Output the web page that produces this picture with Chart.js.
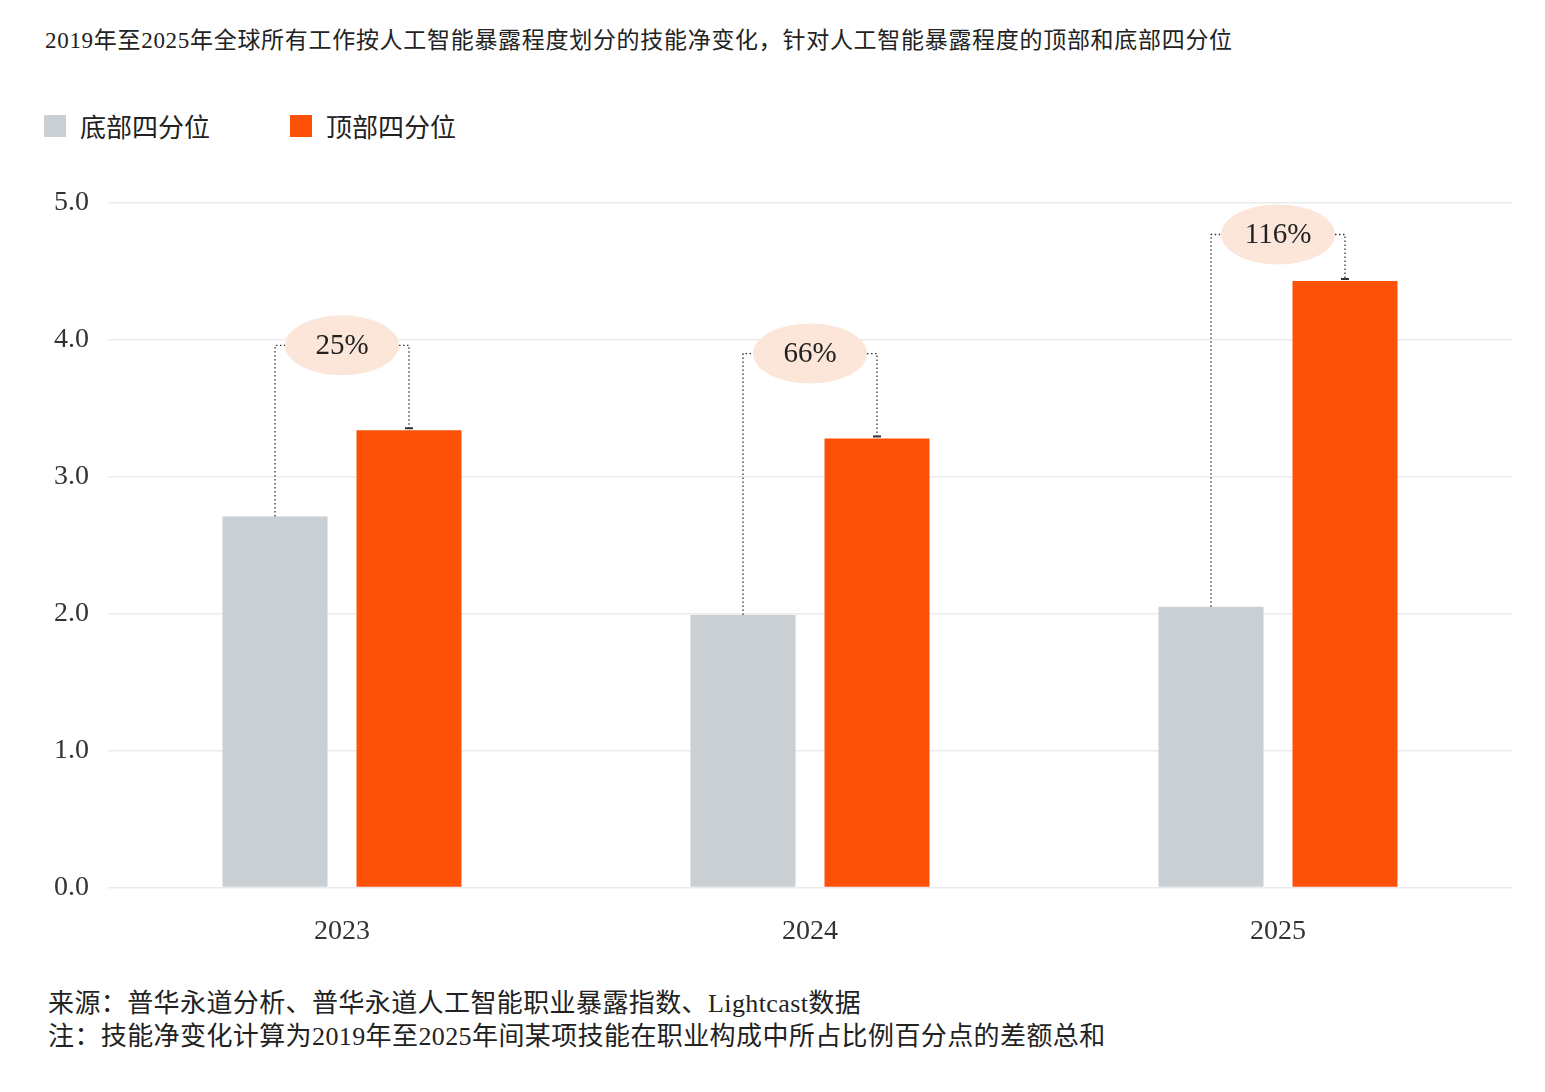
<!DOCTYPE html>
<html lang="zh-CN">
<head>
<meta charset="utf-8">
<title>技能净变化</title>
<script src="https://cdn.jsdelivr.net/npm/chart.js@4.4.1/dist/chart.umd.min.js"></script>
<style>
  body {
    margin: 0;
    background: #fff;
    font-family: "Liberation Serif", "Noto Sans CJK SC", serif;
    color: #222;
  }
  .page {
    position: relative;
    width: 1545px;
    height: 1092px;
  }
  .title {
    position: absolute;
    left: 45px;
    top: 21px;
    font-size: 23px;
    letter-spacing: 0.7px;
  }
  .legend {
    position: absolute;
    left: 44px;
    top: 107px;
    display: flex;
    font-size: 26px;
  }
  .legend-item {
    display: flex;
    align-items: center;
    margin-right: 80px;
  }
  .legend-box {
    width: 22px;
    height: 22px;
    margin-right: 14px;
  }
  .chart-wrap {
    position: absolute;
    left: 0;
    top: 150px;
    width: 1545px;
    height: 832px;
  }
  .notes {
    position: absolute;
    left: 48px;
    top: 987px;
    font-size: 26px;
    letter-spacing: 0.4px;
    line-height: 33px;
  }
</style>
</head>
<body>
<div class="page">
  <div class="title">2019年至2025年全球所有工作按人工智能暴露程度划分的技能净变化，针对人工智能暴露程度的顶部和底部四分位</div>
  <div class="legend" id="legend"></div>
  <div class="chart-wrap"><canvas id="chart"></canvas></div>
  <div class="notes">
    <div>来源：普华永道分析、普华永道人工智能职业暴露指数、Lightcast数据</div>
    <div>注：技能净变化计算为2019年至2025年间某项技能在职业构成中所占比例百分点的差额总和</div>
  </div>
</div>

<script>
// data
const years = ["2023", "2024", "2025"];
const bottomQuartile = [2.71, 1.99, 2.05];
const topQuartile = [3.34, 3.28, 4.43];
const gapLabels = ["25%", "66%", "116%"];
const gapLevels = [3.96, 3.9, 4.77]; // height of the dotted connector
const yTicks = [0, 1, 2, 3, 4, 5];

const GREY = "#c9cfd2";
const ORANGE = "#fd5108";

// dotted connectors with the % bubble between the two bars
const gapPlugin = {
  id: "gapLabels",
  afterDatasetsDraw(chart) {
    const ctx = chart.ctx;
    const x = chart.scales.x;
    const y = chart.scales.y;
    const low = chart.getDatasetMeta(0).data;
    const high = chart.getDatasetMeta(1).data;
    const rx = 57, ry = 30;

    years.forEach((yr, i) => {
      const cx = x.getPixelForValue(i);
      const lvl = y.getPixelForValue(gapLevels[i]);
      const lx = low[i].x;
      const hx = high[i].x;

      ctx.save();
      ctx.strokeStyle = "#333";
      ctx.lineWidth = 1.3;
      ctx.setLineDash([1.5, 2.5]);
      ctx.beginPath();
      ctx.moveTo(lx, low[i].y);
      ctx.lineTo(lx, lvl);
      ctx.lineTo(cx - rx, lvl);
      ctx.moveTo(cx + rx, lvl);
      ctx.lineTo(hx, lvl);
      ctx.lineTo(hx, high[i].y - 2);
      ctx.stroke();
      ctx.setLineDash([]);

      // small cap on top of the orange bar
      ctx.lineWidth = 2;
      ctx.beginPath();
      ctx.moveTo(hx - 4, high[i].y - 2);
      ctx.lineTo(hx + 4, high[i].y - 2);
      ctx.stroke();

      ctx.fillStyle = "#fce6da";
      ctx.beginPath();
      ctx.ellipse(cx, lvl, rx, ry, 0, 0, Math.PI * 2);
      ctx.fill();

      ctx.fillStyle = "#222";
      ctx.font = "29px 'Liberation Serif', serif";
      ctx.textAlign = "center";
      ctx.textBaseline = "middle";
      ctx.fillText(gapLabels[i], cx, lvl + 1);
      ctx.restore();
    });
  }
};

const data = {
  labels: years,
  datasets: [
    {
      label: "底部四分位",
      data: bottomQuartile,
      backgroundColor: GREY,
      categoryPercentage: 0.5726,
      barPercentage: 0.7836,
    },
    {
      label: "顶部四分位",
      data: topQuartile,
      backgroundColor: ORANGE,
      categoryPercentage: 0.5726,
      barPercentage: 0.7836,
    },
  ],
};

const options = {
  responsive: true,
  maintainAspectRatio: false,
  animation: false,
  layout: {
    padding: { left: 47, right: 33, top: 53, bottom: 15 },
  },
  plugins: {
    legend: { display: false },
    tooltip: { enabled: false },
  },
  scales: {
    x: {
      grid: { display: false },
      border: { display: false },
      ticks: {
        padding: 19,
        color: "#333",
        font: { family: "'Liberation Serif', serif", size: 28 },
      },
    },
    y: {
      min: 0,
      max: 5,
      afterBuildTicks: (axis) => {
        axis.ticks = yTicks.map((v) => ({ value: v }));
      },
      afterFit: (axis) => {
        axis.width = 61;
      },
      grid: { color: "#ebebeb", lineWidth: 1.5, drawTicks: false },
      border: { display: false },
      ticks: {
        padding: 19,
        color: "#333",
        font: { family: "'Liberation Serif', serif", size: 28 },
        callback: (v) => v.toFixed(1),
      },
    },
  },
};

const chart = new Chart(document.getElementById("chart"), {
  type: "bar",
  data,
  options,
  plugins: [gapPlugin],
});

// legend built from the datasets
const legendEl = document.getElementById("legend");
data.datasets.forEach((ds) => {
  const item = document.createElement("div");
  item.className = "legend-item";
  const box = document.createElement("span");
  box.className = "legend-box";
  box.style.background = ds.backgroundColor;
  const txt = document.createElement("span");
  txt.textContent = ds.label;
  item.appendChild(box);
  item.appendChild(txt);
  legendEl.appendChild(item);
});
</script>
</body>
</html>
